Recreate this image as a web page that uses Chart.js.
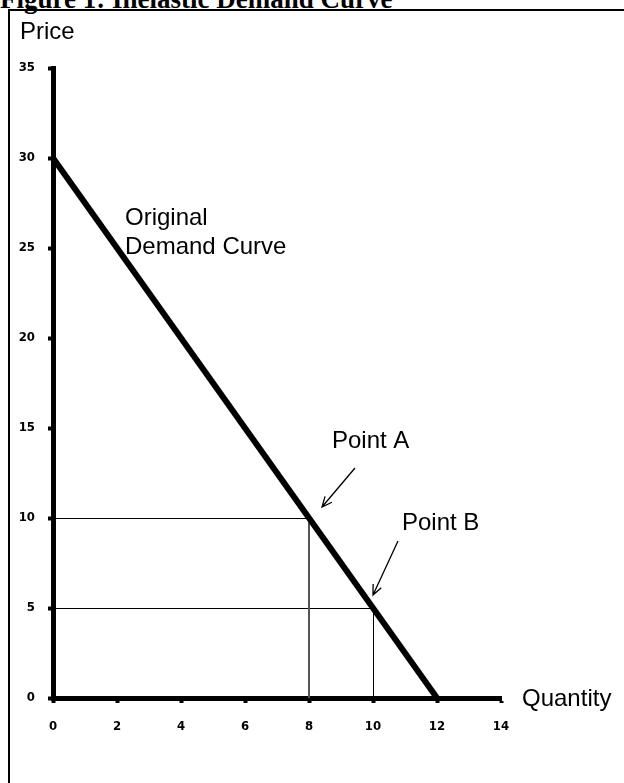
<!DOCTYPE html>
<html lang="en">
<head>
    <meta charset="UTF-8">
    <script src="https://cdn.jsdelivr.net/npm/chart.js"></script>
    <title>Inelastic Demand Curve</title>
    <style>
        body { margin: 0; background: #fff; }
        .wrap { position: relative; width: 624px; height: 783px; overflow: hidden; }
        .fig-title {
            position: absolute;
            left: 0;
            top: -14px;
            font: bold 27px "Liberation Serif", "Times New Roman", serif;
            line-height: 27px;
            white-space: nowrap;
        }
        /* box round the figure, right and bottom fall outside the page */
        .frame {
            position: absolute;
            left: 8px;
            top: 9px;
            width: 700px;
            height: 900px;
            border: 2px solid #000;
        }
        canvas { position: absolute; left: 0; top: 0; }
    </style>
</head>
<body>
    <div class="wrap">
        <div class="frame"></div>
        <div class="fig-title">Figure 1: Inelastic Demand Curve</div>
        <canvas id="demandChart" width="624" height="783"></canvas>
    </div>

    <script>
        // Demand curve end points
        const quantity = [0, 12];
        const price = [30, 0];

        // Marked points on the curve
        const pointA = { q: 8, p: 10 };
        const pointB = { q: 10, p: 5 };

        // Axis ranges / tick steps
        const xTicks = [0, 2, 4, 6, 8, 10, 12, 14];
        const yTicks = [0, 5, 10, 15, 20, 25, 30, 35];

        const demandData = quantity.map((q, i) => ({ x: q, y: price[i] }));

        // Drop lines from a point down to both axes
        function hLine(pt) {
            return [{ x: 0, y: pt.p }, { x: pt.q, y: pt.p }];
        }
        function vLine(pt) {
            return [{ x: pt.q, y: 0 }, { x: pt.q, y: pt.p }];
        }

        function arrow(ctx, x1, y1, x2, y2) {
            const ang = Math.atan2(y2 - y1, x2 - x1);
            const head = 11;
            ctx.beginPath();
            ctx.moveTo(x1, y1);
            ctx.lineTo(x2, y2);
            ctx.moveTo(x2 - head * Math.cos(ang - 0.42), y2 - head * Math.sin(ang - 0.42));
            ctx.lineTo(x2, y2);
            ctx.lineTo(x2 - head * Math.cos(ang + 0.42), y2 - head * Math.sin(ang + 0.42));
            ctx.stroke();
        }

        // shift the 1px drop lines half a pixel so they come out crisp
        const crisp = {
            id: 'crisp',
            beforeDatasetDraw(chart, args) {
                const ds = chart.data.datasets[args.index];
                chart.ctx.save();
                if (ds.crisp) chart.ctx.translate(0.5, 0.5);
            },
            afterDatasetDraw(chart) {
                chart.ctx.restore();
            }
        };

        // Labels and arrows
        const notes = {
            id: 'notes',
            afterDraw(chart) {
                const ctx = chart.ctx;
                const xs = chart.scales.x;
                const ys = chart.scales.y;
                ctx.save();
                ctx.fillStyle = '#000';
                ctx.strokeStyle = '#000';
                ctx.font = '24px "Liberation Sans", Arial, sans-serif';
                ctx.textBaseline = 'alphabetic';
                ctx.textAlign = 'left';

                ctx.fillText('Price', 20, 39);
                ctx.fillText('Quantity', 522, ys.getPixelForValue(0) + 8);

                // curve label
                ctx.fillText('Original', 125, 225);
                ctx.fillText('Demand Curve', 125, 254);

                const ax = xs.getPixelForValue(pointA.q);
                const ay = ys.getPixelForValue(pointA.p);
                const bx = xs.getPixelForValue(pointB.q);
                const by = ys.getPixelForValue(pointB.p);

                ctx.fillText('Point A', ax + 23, ay - 70);
                ctx.fillText('Point B', bx + 29, by - 78);

                ctx.lineWidth = 1.3;
                arrow(ctx, ax + 46, ay - 50, ax + 13, ay - 11);
                arrow(ctx, bx + 25, by - 67, bx, by - 13);
                ctx.restore();
            }
        };

        const ctx = document.getElementById('demandChart').getContext('2d');
        const chart = new Chart(ctx, {
            type: 'scatter',
            data: {
                datasets: [
                    {
                        label: 'Original Demand Curve',
                        data: demandData,
                        showLine: true,
                        borderColor: '#000',
                        borderWidth: 6,
                        pointRadius: 0,
                        clip: false
                    },
                    {
                        data: hLine(pointA),
                        showLine: true,
                        crisp: true,
                        borderColor: '#000',
                        borderWidth: 1,
                        pointRadius: 0
                    },
                    {
                        data: vLine(pointA),
                        showLine: true,
                        borderColor: '#555',
                        borderWidth: 2,
                        pointRadius: 0
                    },
                    {
                        data: hLine(pointB),
                        showLine: true,
                        crisp: true,
                        borderColor: '#000',
                        borderWidth: 1,
                        pointRadius: 0
                    },
                    {
                        data: vLine(pointB),
                        showLine: true,
                        crisp: true,
                        borderColor: '#000',
                        borderWidth: 1,
                        pointRadius: 0
                    }
                ]
            },
            options: {
                responsive: false,
                animation: false,
                layout: {
                    padding: { left: 0, top: 68, right: 123, bottom: 0 }
                },
                plugins: {
                    legend: { display: false },
                    tooltip: { enabled: false }
                },
                scales: {
                    x: {
                        type: 'linear',
                        min: xTicks[0],
                        max: xTicks[xTicks.length - 1],
                        afterFit: (s) => { s.height = 85; },
                        afterBuildTicks: (s) => { s.ticks = xTicks.map(v => ({ value: v })); },
                        border: { display: true, color: '#000', width: 5 },
                        grid: {
                            drawOnChartArea: false,
                            drawTicks: true,
                            tickLength: 5,
                            tickWidth: 4,
                            tickColor: '#000'
                        },
                        ticks: {
                            color: '#000',
                            padding: 16,
                            font: { family: '"DejaVu Sans Condensed", "DejaVu Sans", sans-serif', size: 13, weight: 'bold' }
                        }
                    },
                    y: {
                        type: 'linear',
                        min: yTicks[0],
                        max: yTicks[yTicks.length - 1],
                        afterFit: (s) => { s.width = 53; },
                        afterBuildTicks: (s) => { s.ticks = yTicks.map(v => ({ value: v })); },
                        border: { display: true, color: '#000', width: 5 },
                        grid: {
                            drawOnChartArea: false,
                            drawTicks: true,
                            tickLength: 5,
                            tickWidth: 4,
                            tickColor: '#000'
                        },
                        ticks: {
                            color: '#000',
                            padding: 13,
                            font: { family: '"DejaVu Sans Condensed", "DejaVu Sans", sans-serif', size: 13, weight: 'bold' }
                        }
                    }
                }
            },
            plugins: [crisp, notes]
        });
    </script>
</body>
</html>
